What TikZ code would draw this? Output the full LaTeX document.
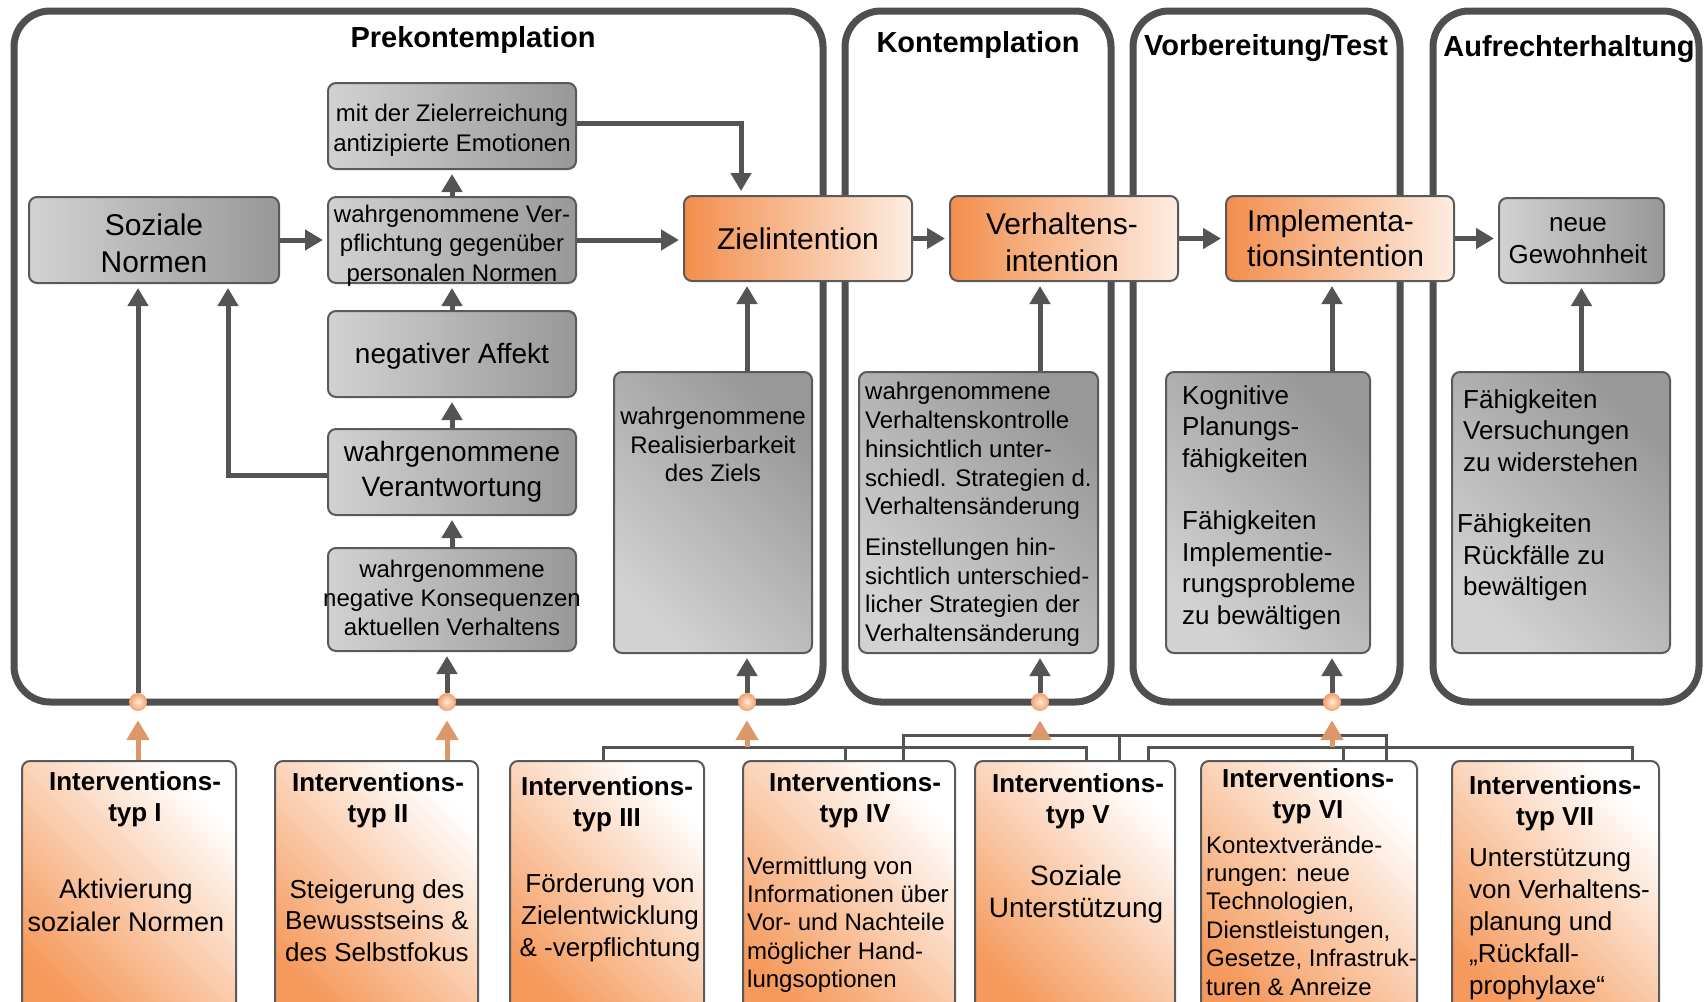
\documentclass[tikz,border=0pt]{standalone}
\usepackage{fontspec}
\setmainfont{Liberation Sans}
\usetikzlibrary{arrows.meta,calc}
\definecolor{framec}{HTML}{4F4F4F}
\definecolor{linec}{HTML}{545454}
\definecolor{boxline}{HTML}{5A5A5A}
\definecolor{gl}{HTML}{D2D2D2}
\definecolor{gd}{HTML}{989898}
\definecolor{ol}{HTML}{F38E4C}
\definecolor{or}{HTML}{FDEDE2}
\definecolor{io}{HTML}{F59A5C}
\definecolor{oarrc}{HTML}{DC9868}
\definecolor{dotin}{HTML}{FFEBDD}
\definecolor{dotout}{HTML}{F4A06A}
\newcommand\fsz[2]{\fontsize{#1pt}{#2pt}\selectfont}

\begin{document}
\begin{tikzpicture}[x=1pt,y=-1pt,
  stageframe/.style={draw=framec,line width=7pt,rounded corners=36pt},
  boxbase/.style={draw=boxline,line width=2pt,rounded corners=8pt,inner sep=0pt},
  gbox/.style={boxbase,left color=gl,right color=gd,minimum width=248pt,minimum height=86pt},
  gtall/.style={boxbase,bottom color=gl,top color=gd,shading angle=-45,minimum height=281pt},
  obox/.style={boxbase,left color=ol,right color=or,minimum width=228pt,minimum height=85pt},
  ibox/.style={boxbase,bottom color=io,top color=white,shading angle=-45,minimum height=260pt},
  txt/.style={inner sep=0pt,align=center,yshift=-2.5pt},
  ltxt/.style={inner sep=0pt,align=left,anchor=west,yshift=-2.5pt},
  stagetitle/.style={inner sep=0pt,font=\fsz{29}{34}\bfseries,yshift=-3pt},
  ihead/.style={txt,font=\fsz{26}{31}\bfseries},
  arr/.style={draw=linec,line width=5pt,-{Triangle[length=18pt,width=20pt]},shorten >=4pt},
  oarr/.style={draw=oarrc,line width=5pt,-{Triangle[length=20pt,width=22pt]},shorten >=9pt},
  bus/.style={draw=linec,line width=3pt},
  joint/.style={circle,minimum size=18pt,inner sep=0pt,inner color=dotin,outer color=dotout}
]
\useasboundingbox (0,0) rectangle (1707,1001);
\clip (0,0) rectangle (1707,1001);

% stage frames
\draw[stageframe] (14,11) rectangle (823,702);
\draw[stageframe] (845,11) rectangle (1111,702);
\draw[stageframe] (1133,11) rectangle (1400,702);
\draw[stageframe] (1433,11) rectangle (1699,702);

\node[stagetitle] (st1) at (473,37) {Prekontemplation};
\node[stagetitle] (st2) at (978,42) {Kontemplation};
\node[stagetitle] (st3) at (1266,45) {Vorbereitung/Test};
\node[stagetitle] (st4) at (1569,46) {Aufrechterhaltung};

% determinants (grey boxes)
\node[gbox,minimum width=250pt] (soz) at (154,240) {};
\node[gbox] (emo) at (452,126) {};
\node[gbox] (verp) at (452,240) {};
\node[gbox] (aff) at (452,354) {};
\node[gbox] (verant) at (452,472) {};
\node[gbox,minimum height=103pt] (kons) at (452,599.5) {};
\node[gbox,minimum width=165pt,minimum height=85pt] (gew) at (1581.5,240.5) {};

\node[gtall,minimum width=198pt] (real) at (713,512.5) {};
\node[gtall,minimum width=239pt] (kont) at (978.5,512.5) {};
\node[gtall,minimum width=204pt] (kog) at (1268,512.5) {};
\node[gtall,minimum width=218pt] (fah) at (1561,512.5) {};

% intentions (orange boxes)
\node[obox] (ziel) at (798,238.5) {};
\node[obox] (verh) at (1064,238.5) {};
\node[obox] (impl) at (1340,238.5) {};

% box texts
\node[txt,font=\fsz{30}{37}] (soz-t) at (154,241) {Soziale\\Normen};
\node[txt,font=\fsz{24}{29.5}] (emo-t) at (452,128) {mit der Zielerreichung\\antizipierte Emotionen};
\node[txt,font=\fsz{24}{29.5}] (verp-t) at (452,243) {wahrgenommene Ver-\\pflichtung gegenüber\\personalen Normen};
\node[txt,font=\fsz{28}{34}] (aff-t) at (452,354) {negativer Affekt};
\node[txt,font=\fsz{28}{35}] (verant-t) at (452,469) {wahrgenommene\\Verantwortung};
\node[txt,font=\fsz{24}{29}] (kons-t) at (452,595) {wahrgenommene\\negative Konsequenzen\\aktuellen Verhaltens};
\node[txt,font=\fsz{30}{36}] (ziel-t) at (798,236) {Zielintention};
\node[txt,font=\fsz{30}{37}] (verh-t) at (1062,240) {Verhaltens-\\intention};
\node[ltxt,font=\fsz{30}{35}] (impl-t) at (1247,236) {Implementa-\\tionsintention};
\node[txt,font=\fsz{26}{32}] (gew-t) at (1578,238) {neue\\Gewohnheit};
\node[txt,font=\fsz{24}{28.5}] (real-t) at (713,442) {wahrgenommene\\Realisierbarkeit\\des Ziels};
\node[ltxt,font=\fsz{24}{28.7}] (kont-t) at (865,512) {wahrgenommene\\Verhaltenskontrolle\\hinsichtlich unter-\\schiedl. Strategien d.\\Verhaltensänderung\\[12pt]Einstellungen hin-\\sichtlich unterschied-\\licher Strategien der\\Verhaltensänderung};
\node[ltxt,font=\fsz{26}{31.5}] (kog-t) at (1182,505) {Kognitive\\Planungs-\\fähigkeiten\\[31pt]Fähigkeiten\\Implementie-\\rungsprobleme\\zu bewältigen};
\node[ltxt,font=\fsz{26}{31.5}] (fah-t) at (1463,493) {Fähigkeiten\\Versuchungen\\zu widerstehen\\[30pt]\hspace*{-6pt}Fähigkeiten\\Rückfälle zu\\bewältigen};

% intervention types
\node[ibox,minimum width=214pt] (int1) at (129,891) {};
\node[ibox,minimum width=203pt] (int2) at (376.5,891) {};
\node[ibox,minimum width=194pt] (int3) at (607,891) {};
\node[ibox,minimum width=212pt] (int4) at (849,891) {};
\node[ibox,minimum width=200pt] (int5) at (1075,891) {};
\node[ibox,minimum width=216pt] (int6) at (1309,891) {};
\node[ibox,minimum width=207pt] (int7) at (1555.5,891) {};

\node[ihead] (i1-h) at (135,797) {Interventions-\\typ I};
\node[txt,font=\fsz{27}{33}] (i1-b) at (126,903) {Aktivierung\\sozialer Normen};
\node[ihead] (i2-h) at (378,798) {Interventions-\\typ II};
\node[txt,font=\fsz{26}{31.5}] (i2-b) at (377,918) {Steigerung des\\Bewusstseins \&\\des Selbstfokus};
\node[ihead] (i3-h) at (607,802) {Interventions-\\typ III};
\node[txt,font=\fsz{26}{32}] (i3-b) at (610,915) {Förderung von\\Zielentwicklung\\\& -verpflichtung};
\node[ihead] (i4-h) at (855,798) {Interventions-\\typ IV};
\node[ltxt,font=\fsz{24}{28.3}] (i4-b) at (747,922) {Vermittlung von\\Informationen über\\Vor- und Nachteile\\möglicher Hand-\\lungsoptionen};
\node[ihead] (i5-h) at (1078,799) {Interventions-\\typ V};
\node[txt,font=\fsz{28}{32}] (i5-b) at (1076,892) {Soziale\\Unterstützung};
\node[ihead] (i6-h) at (1308,794) {Interventions-\\typ VI};
\node[ltxt,font=\fsz{24}{28.4}] (i6-b) at (1206,913) {Kontextverände-\\rungen: neue\\Technologien,\\Dienstleistungen,\\Gesetze, Infrastruk-\\turen \& Anreize};
\node[ihead] (i7-h) at (1555,801) {Interventions-\\typ VII};
\node[ltxt,font=\fsz{26}{32}] (i7-b) at (1469,922) {Unterstützung\\von Verhaltens-\\planung und\\„Rückfall-\\prophylaxe“};

% entry points on the stage frames
\node[joint] (d1) at (138,702) {};
\node[joint] (d2) at (447,702) {};
\node[joint] (d3) at (747,702) {};
\node[joint] (d4) at (1040,702) {};
\node[joint] (d5) at (1332,702) {};

% causal arrows
\draw[arr] (soz) -- (verp);
\draw[arr] (verp) -- (emo);
\draw[arr] (aff) -- (verp);
\draw[arr] (verant) -- (aff);
\draw[arr] (kons) -- (verant);
\draw[arr] ([yshift=-3pt]verant.west) -| ([xshift=-52pt]soz.south east);
\draw[arr] ([yshift=3pt]emo.east) -| ([xshift=-57pt]ziel.north);
\draw[arr] (verp.east) -- (verp.east -| ziel.west);
\draw[arr] (real.north -| d3) -- (ziel.south -| d3);
\draw[arr] (ziel) -- (verh);
\draw[arr] (kont.north -| d4) -- (verh.south -| d4);
\draw[arr] (verh) -- (impl);
\draw[arr] (kog.north -| d5) -- (impl.south -| d5);
\draw[arr] (impl.east) -- (impl.east -| gew.west);
\draw[arr] (fah.north -| gew) -- (gew);

\draw[arr] (d1) -- (soz.south -| d1);
\draw[arr] (d2) -- (kons.south -| d2);
\draw[arr] (d3) -- (real.south -| d3);
\draw[arr] (d4) -- (kont.south -| d4);
\draw[arr] (d5) -- (kog.south -| d5);

% bundling lines from the intervention types
\coordinate (a3) at ([xshift=-4pt]int3.north);
\coordinate (a4) at ([xshift=-4pt]int4.north);
\coordinate (a5) at ([xshift=11pt]int5.north);
\coordinate (b4) at ([xshift=54pt]int4.north);
\coordinate (b5) at ([xshift=44pt]int5.north);
\coordinate (b6) at ([xshift=77pt]int6.north);
\coordinate (c5) at ([xshift=73pt]int5.north);
\coordinate (c6) at ([xshift=34pt]int6.north);
\coordinate (c7) at ([xshift=77pt]int7.north);
\coordinate (busA) at (747,747);
\coordinate (busB) at (1040,735);
\coordinate (busC) at (1332,747);

\draw[bus] (a3) |- (a5 |- busA) -- (a5);
\draw[bus] (a4) -- (a4 |- busA);
\draw[bus] (b4) |- (b6 |- busB) -- (b6);
\draw[bus] (b5) -- (b5 |- busB);
\draw[bus] (c5) |- (c7 |- busC) -- (c7);
\draw[bus] (c6) -- (c6 |- busC);

% intervention arrows
\draw[oarr] (int1.north -| d1) -- (d1);
\draw[oarr] (int2.north -| d2) -- (d2);
\draw[oarr] (busA) -- (d3);
\draw[oarr] (busB) -- (d4);
\draw[oarr] (busC) -- (d5);
\end{tikzpicture}
\end{document}
